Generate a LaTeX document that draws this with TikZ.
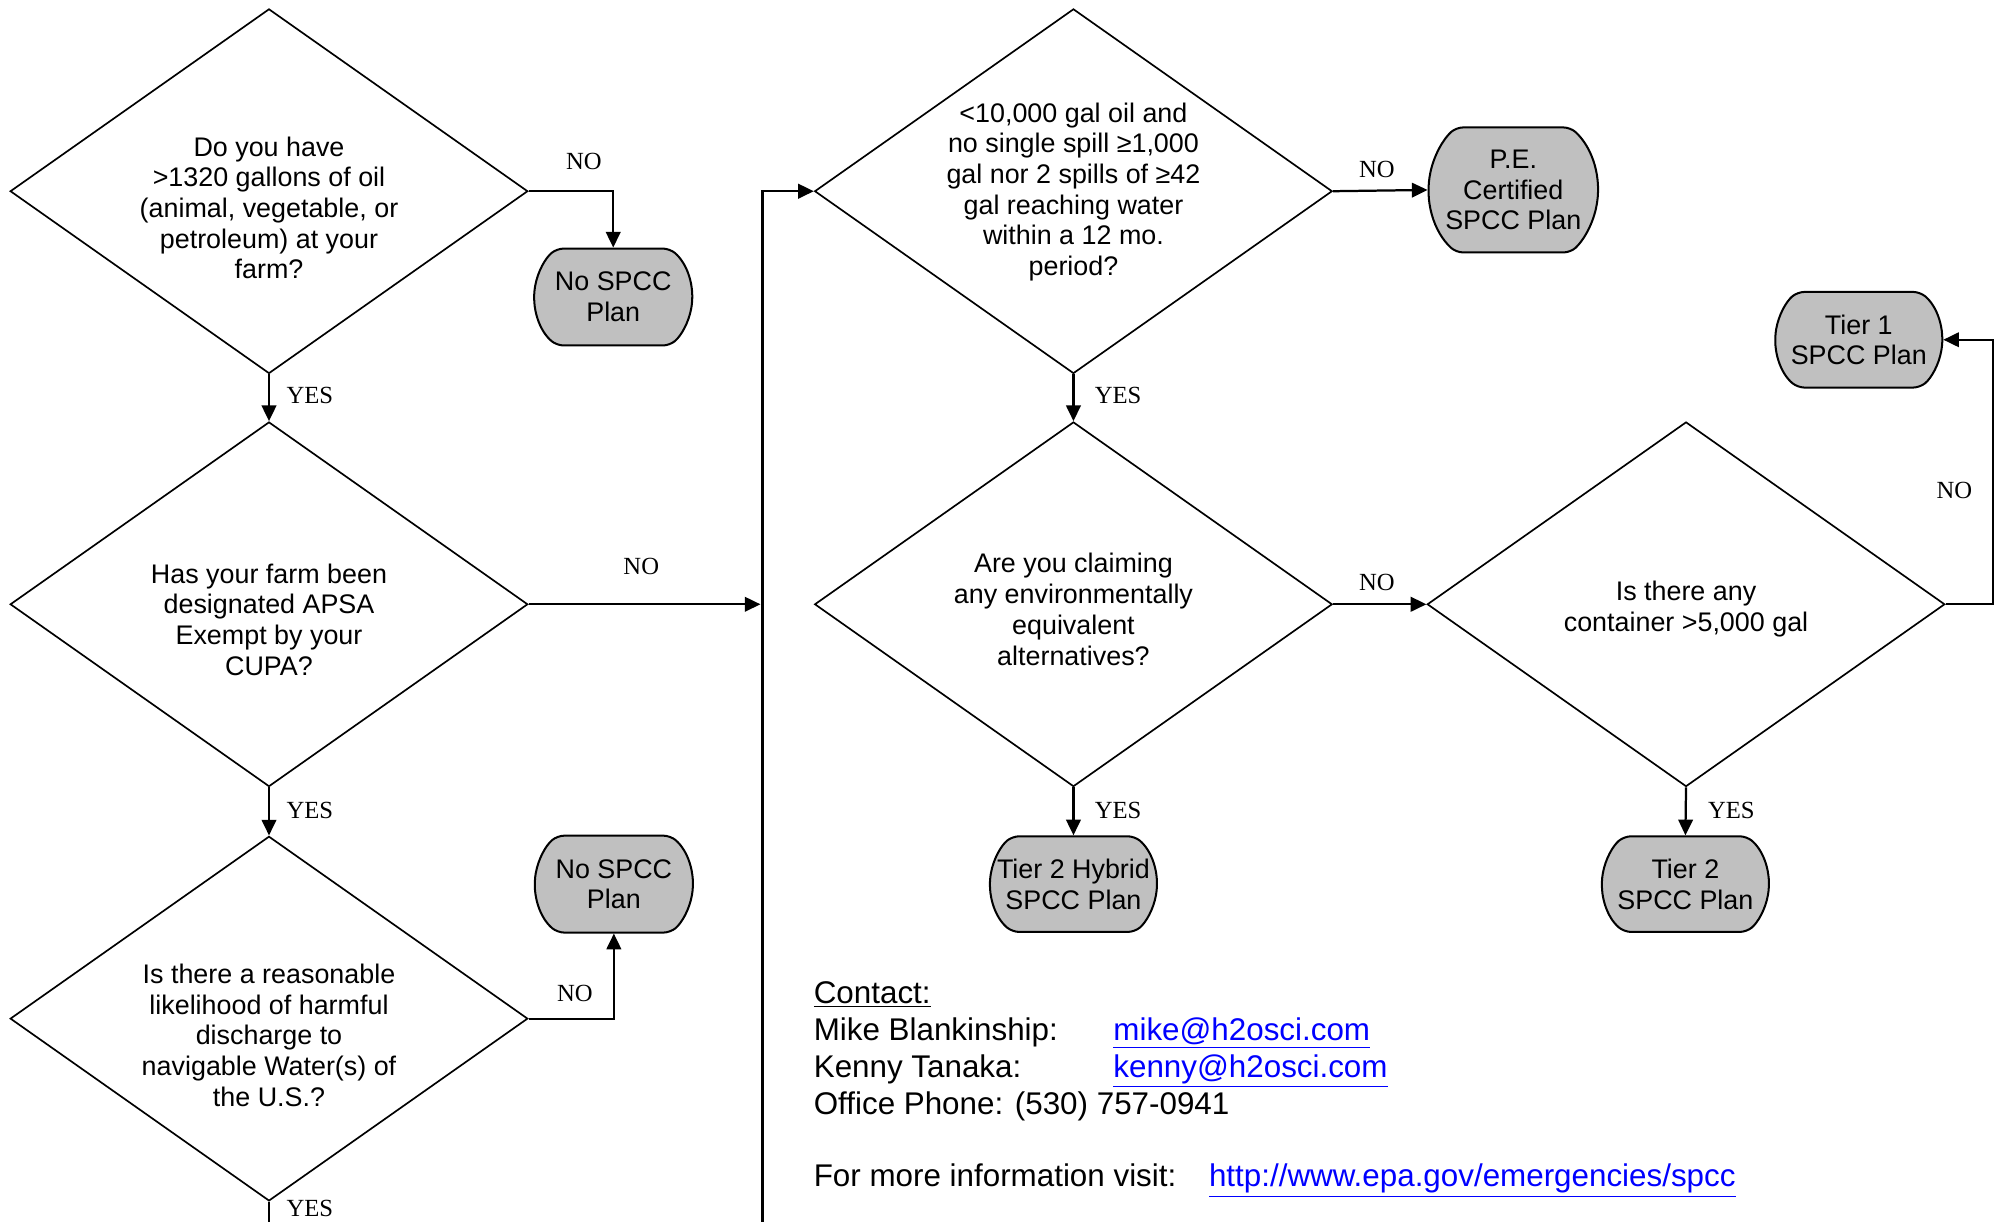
\documentclass[tikz,border=0pt]{standalone}
\usepackage{fontspec}
\setmainfont{Liberation Sans}
\newfontfamily\answerfont{Liberation Serif}
\usetikzlibrary{shapes.geometric,shapes.misc,arrows.meta}

\definecolor{plangray}{RGB}{192,192,192}
\definecolor{linkblue}{RGB}{0,0,255}

\begin{document}
\begin{tikzpicture}
%styles
	\tikzset{
	decision/.style={diamond,draw,line width=0.75pt,inner sep=0pt,minimum width=8.12cm,minimum height=5.72cm},
	qtext/.style={align=center,font=\fontsize{12}{13.7}\selectfont,inner sep=0pt},
	plan/.style={rounded rectangle,rounded rectangle arc length=100,rounded corners=3pt,draw,line width=0.9pt,fill=plangray,align=center,
		font=\fontsize{12}{13.7}\selectfont,inner xsep=-0.3cm,inner ysep=0pt,minimum width=2.02cm,minimum height=1.5cm},
	arrow/.style={-{Triangle[length=7pt,width=6.5pt]},line width=1pt},
	answer/.style={font=\answerfont\fontsize{11}{13}\selectfont,inner sep=0pt},
	contact/.style={anchor=base west,font=\fontsize{14}{16.5}\selectfont,inner sep=0pt},
	weblink/.style={contact,text=linkblue}}

	\useasboundingbox (0,0) rectangle (31.36,19.17);

%links
	%Fragen
	\node[decision] (q1) at (4.22,16.17) {};
	\node[qtext] (q1text) at (4.22,15.91) {Do you have\\>1320 gallons of oil\\(animal, vegetable, or\\petroleum) at your\\farm?};
	\node[decision] (q2) at (4.22,9.69) {};
	\node[qtext] (q2text) at (4.22,9.45) {Has your farm been\\designated APSA\\Exempt by your\\CUPA?};
	\node[decision] (q3) at (4.22,3.19) {};
	\node[qtext] (q3text) at (4.22,2.93) {Is there a reasonable\\likelihood of harmful\\discharge to\\navigable Water(s) of\\the U.S.?};

	%Ergebnisse
	\node[plan, minimum width=1.88cm, minimum height=1.52cm] (nospcc1) at (9.62,14.51) {No SPCC\\Plan};
	\node[plan, minimum width=1.88cm, minimum height=1.52cm] (nospcc2) at (9.63,5.30) {No SPCC\\Plan};

%rechts
	%Fragen
	\node[decision] (q4) at (16.84,16.17) {};
	\node[qtext] (q4text) at (16.84,16.16) {<10,000 gal oil and\\no single spill ≥1,000\\gal nor 2 spills of ≥42\\gal reaching water\\within a 12 mo.\\period?};
	\node[decision] (q5) at (16.84,9.69) {};
	\node[qtext] (q5text) at (16.84,9.61) {Are you claiming\\any environmentally\\equivalent\\alternatives?};
	\node[decision] (q6) at (26.45,9.69) {};
	\node[qtext] (q6text) at (26.45,9.61) {Is there any\\container >5,000 gal};

	%Ergebnisse
	\node[plan, rounded rectangle arc length=95, minimum width=1.86cm, minimum height=1.96cm] (pe) at (23.74,16.19) {P.E.\\Certified\\SPCC Plan};
	\node[plan] (hybrid) at (16.84,5.30) {Tier 2 Hybrid\\SPCC Plan};
	\node[plan] (tier1) at (29.16,13.84) {Tier 1\\SPCC Plan};
	\node[plan] (tier2) at (26.44,5.30) {Tier 2\\SPCC Plan};

%Pfeile
	\coordinate (q3out) at (4.22,0);
	\coordinate (busbot) at (11.96,0);
	\coordinate (busin) at (11.93,9.69);
	\coordinate (tier1bend) at (31.26,9.69);

	\draw[arrow] (q1.east) -| (nospcc1.north);
	\draw[arrow] (q1.south) -- (q2.north);
	\draw[arrow] (q2.south) -- (q3.north);
	\draw[arrow] (q3.east) -| (nospcc2.south);
	\draw[line width=1pt] (q3.south) -- (q3out);
	\draw[arrow] (q2.east) -- (busin);
	\draw[arrow] (busbot) |- (q4.west);
	\draw[arrow] (q4.east) -- (pe.west);
	\draw[arrow] (q4.south) -- (q5.north);
	\draw[arrow] (q5.east) -- (q6.west);
	\draw[arrow] (q5.south) -- (hybrid.north);
	\draw[arrow] (q6.south) -- (tier2.north);
	\draw[arrow] (q6.east) -- (tier1bend) |- (tier1.east);

	%beschriftung
	\node[answer] (no1) at (9.16,16.63) {NO};
	\node[answer] (yes1) at (4.86,12.97) {YES};
	\node[answer] (no2) at (10.06,10.29) {NO};
	\node[answer] (yes2) at (4.86,6.45) {YES};
	\node[answer] (no3) at (9.02,3.59) {NO};
	\node[answer] (yes3) at (4.86,0.21) {YES};
	\node[answer] (no4) at (21.6,16.51) {NO};
	\node[answer] (yes4) at (17.54,12.97) {YES};
	\node[answer] (no5) at (21.6,10.03) {NO};
	\node[answer] (yes5) at (17.54,6.45) {YES};
	\node[answer] (no6) at (30.66,11.47) {NO};
	\node[answer] (yes6) at (27.16,6.45) {YES};

%Kontakt
	\node[contact] (contact) at (12.76,3.43) {\underline{Contact:}};
	\node[contact] (mike) at (12.76,2.85) {Mike Blankinship:};
	\node[weblink] (mikemail) at (17.46,2.85) {\underline{mike@h2osci.com}};
	\node[contact] (kenny) at (12.76,2.27) {Kenny Tanaka:};
	\node[weblink] (kennymail) at (17.46,2.27) {\underline{kenny@h2osci.com}};
	\node[contact] (phone) at (12.76,1.69) {Office Phone: (530) 757-0941};
	\node[contact] (info) at (12.76,0.55) {For more information visit:};
	\node[weblink] (url) at (18.96,0.55) {\underline{http://www.epa.gov/emergencies/spcc}};

\end{tikzpicture}
\end{document}
